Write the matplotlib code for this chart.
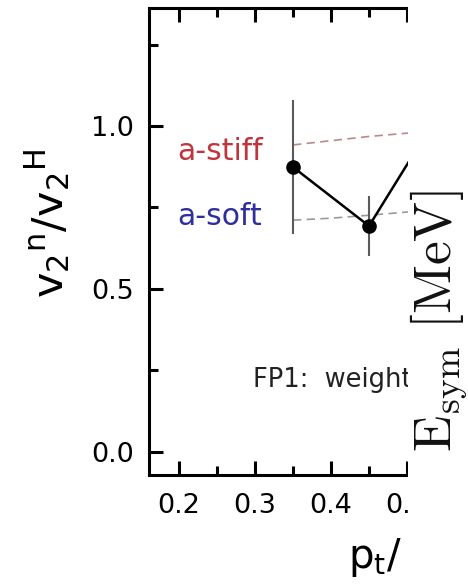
import matplotlib
matplotlib.use("Agg")
import matplotlib.pyplot as plt
from matplotlib.patches import Rectangle
from matplotlib.ticker import MultipleLocator, FixedLocator

# --- data -------------------------------------------------------------
pt = [0.35, 0.45, 0.55]
ratio = [0.874, 0.693, 1.07]
ratio_err = [0.205, 0.093, 0.10]

model_pt = [0.35, 0.40, 0.45, 0.50, 0.55]
stiff = [0.942, 0.955, 0.968, 0.978, 0.985]
soft = [0.711, 0.717, 0.726, 0.736, 0.745]

xticks = [0.2, 0.3, 0.4, 0.5]
xtick_labels = ["0.2", "0.3", "0.4", "0.5"]
yticks = [0.0, 0.5, 1.0]
ytick_labels = ["0.0", "0.5", "1.0"]

W, H = 468, 587
fig = plt.figure(figsize=(W / 100, H / 100), dpi=100)
fig.patch.set_facecolor("white")

x0, x1 = 0.1605, 0.60
y0, y1 = -0.0716, 1.364
left_px, top_px, bot_px = 149, 7.5, 475
width_px = (x1 - x0) * 760
ax = fig.add_axes([left_px / W, (H - bot_px) / H, width_px / W, (bot_px - top_px) / H])
ax.set_xlim(x0, x1)
ax.set_ylim(y0, y1)

for s in ax.spines.values():
    s.set_linewidth(2.2)
    s.set_color("black")

# model curves
ax.plot(model_pt, stiff, color="#b88a8a", lw=1.2, dashes=(5, 3.2), zorder=2)
ax.plot(model_pt, soft, color="#9a9a9a", lw=1.2, dashes=(5, 3.2), zorder=2)

# measured ratio
ax.errorbar(pt, ratio, yerr=ratio_err, fmt="none", ecolor="#5a5a5a",
            elinewidth=1.5, capsize=0, zorder=3)
ax.plot(pt, ratio, color="black", lw=1.8, marker="o", ms=9.5,
        mfc="black", mec="black", zorder=4)

ax.text(0.1974, 0.896, "a-stiff", color="#c0343c", fontsize=21.5,
        va="baseline", ha="left")
ax.text(0.1974, 0.696, "a-soft", color="#2e2e9c", fontsize=21.5,
        va="baseline", ha="left")
ax.text(0.2974, 0.199, "FP1:  weight", color="#222222", fontsize=18.5,
        va="baseline", ha="left")

ax.xaxis.set_major_locator(FixedLocator(xticks))
ax.set_xticklabels(xtick_labels)
ax.xaxis.set_minor_locator(MultipleLocator(0.05))
ax.yaxis.set_major_locator(FixedLocator(yticks))
ax.set_yticklabels(ytick_labels)
ax.yaxis.set_minor_locator(MultipleLocator(0.25))

ax.tick_params(which="both", direction="in", top=True, right=False,
               width=2.2, color="black")
ax.tick_params(which="major", length=10, labelsize=19.5, pad=13)
ax.tick_params(which="minor", length=6.5)
ax.tick_params(axis="y", which="major", pad=11)

# axis titles
fig.text(48 / W, (H - 223) / H,
         r"$\mathrm{v}_2{}^\mathrm{n}/\mathrm{v}_2{}^\mathrm{H}$",
         rotation=90, fontsize=31, ha="center", va="center",
         math_fontfamily="dejavusans")
fig.text(348 / W, 19 / H, r"$\mathrm{p}_\mathrm{t}$/ m", fontsize=29,
         ha="left", va="baseline", math_fontfamily="dejavusans")

# blank strip on the right with the neighbouring axis title
fig.add_artist(Rectangle((408 / W, 0), 1, 1, transform=fig.transFigure,
                         facecolor="white", edgecolor="none", zorder=10))
fig.text(451 / W, 135 / H, r"$\mathrm{E}_\mathrm{sym}\ [\mathrm{MeV}]$",
         rotation=90, rotation_mode="anchor", ha="left", va="baseline",
         fontsize=38.5, math_fontfamily="cm", color="#111111", zorder=11)

fig.savefig("out.png", dpi=100, facecolor="white")
